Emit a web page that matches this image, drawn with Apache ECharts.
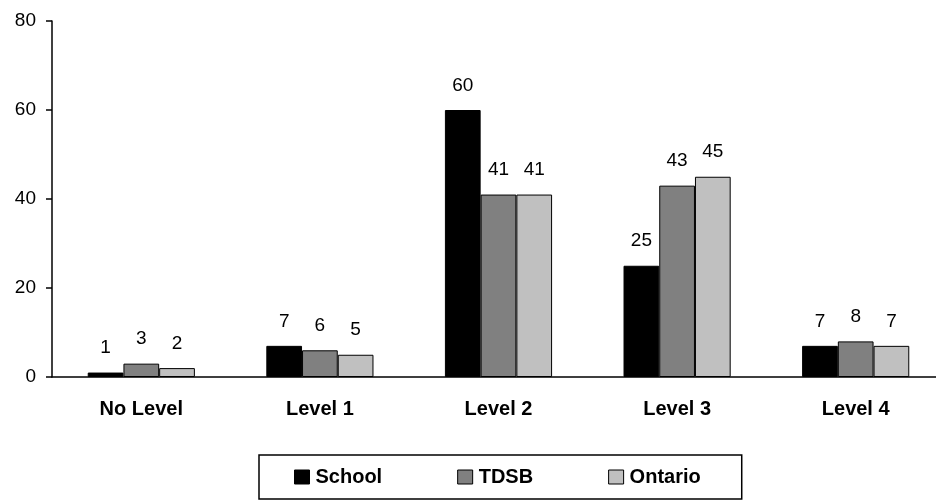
<!DOCTYPE html>
<html>
<head>
<meta charset="utf-8">
<script src="https://cdn.jsdelivr.net/npm/echarts@6/dist/echarts.min.js"></script>
<style>html,body{margin:0;padding:0;background:#fff;overflow:hidden}#c{width:950px;height:500px}</style>
</head>
<body>
<div id="c"></div>
<script>
var categories = ['No Level', 'Level 1', 'Level 2', 'Level 3', 'Level 4'];
var schoolValues = [1, 7, 60, 25, 7];
var tdsbValues = [3, 6, 41, 43, 8];
var ontarioValues = [2, 5, 41, 45, 7];
var yTicks = [0, 20, 40, 60, 80];

var FONT = '"Liberation Sans", Arial, sans-serif';
var chart = echarts.init(document.getElementById('c'));

function mk(name, data, color) {
  return {
    name: name,
    type: 'bar',
    data: data,
    barGap: '0%',
    barCategoryGap: '40%',
    itemStyle: { color: color, borderColor: '#000', borderWidth: 1 },
    label: {
      show: true, position: 'top', distance: 15,
      color: '#000', fontFamily: FONT, fontSize: 19
    },
    emphasis: { disabled: true }
  };
}

chart.setOption({
  animation: false,
  grid: { left: 52, width: 893, top: 21, bottom: 123, containLabel: false },
  legend: {
    left: 259, top: 455,
    padding: [12, 41, 12, 35],
    itemGap: 75,
    itemWidth: 15, itemHeight: 14,
    borderColor: '#000', borderWidth: 1.5,
    icon: 'rect',
    itemStyle: { borderColor: '#000', borderWidth: 1 },
    textStyle: { color: '#000', fontFamily: FONT, fontSize: 20, fontWeight: 'bold', padding: [0, 0, 0, 1] },
    data: ['School', 'TDSB', 'Ontario']
  },
  xAxis: {
    type: 'category',
    data: categories,
    axisLine: { lineStyle: { color: '#000', width: 1.5 } },
    axisTick: { show: false },
    axisLabel: { color: '#000', fontFamily: FONT, fontSize: 20, fontWeight: 'bold', margin: 22 }
  },
  yAxis: {
    type: 'value',
    min: yTicks[0], max: yTicks[yTicks.length - 1], interval: 20,
    axisLine: { show: true, lineStyle: { color: '#000', width: 1.5 } },
    axisTick: { show: true, length: 6, lineStyle: { color: '#000', width: 1.5 } },
    splitLine: { show: false },
    axisLabel: { color: '#000', fontFamily: FONT, fontSize: 19, margin: 16 }
  },
  series: [
    mk('School', schoolValues, '#000000'),
    mk('TDSB', tdsbValues, '#808080'),
    mk('Ontario', ontarioValues, '#c0c0c0')
  ]
});
</script>
</body>
</html>
